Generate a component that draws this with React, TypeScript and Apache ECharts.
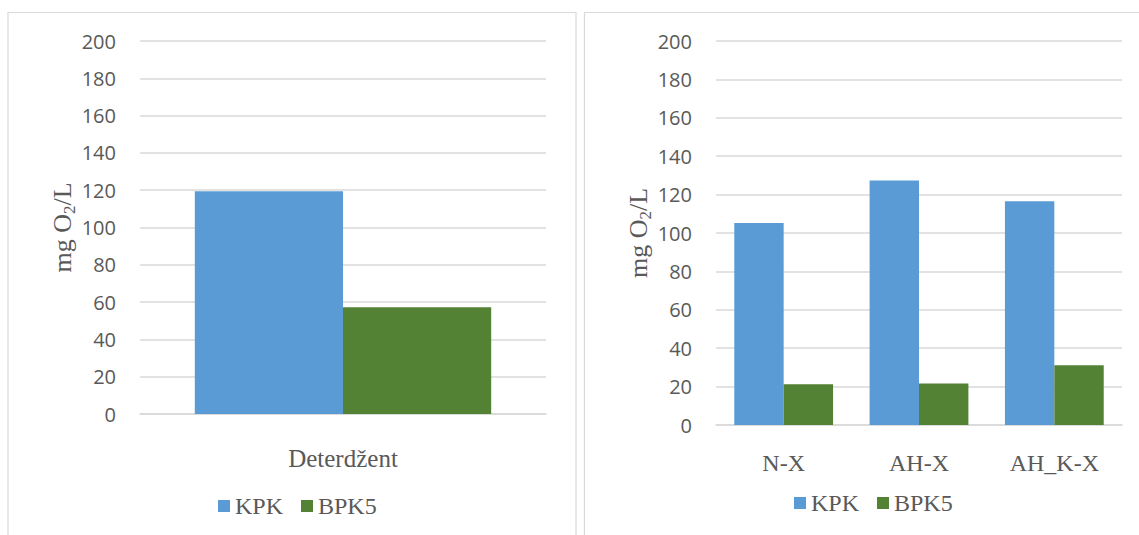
import React, { useEffect, useRef } from "react";
import * as echarts from "echarts";

const seriesNames = ["KPK", "BPK5"];
const leftCategories = ["Deterdžent"];
const leftKPK = [119.5];
const leftBPK5 = [57.2];
const rightCategories = ["N-X", "AH-X", "AH_K-X"];
const rightKPK = [105.2, 127.3, 116.5];
const rightBPK5 = [21.2, 21.6, 31.1];
const yTicks = { min: 0, max: 200, interval: 20 };

const BLUE = "#5b9bd5";
const GREEN = "#548235";
const TEXT = "#595959";
const GRID = "#d9d9d9";
const SERIF = "'Liberation Serif', 'Times New Roman', serif";
const SANS = "'Open Sans', 'Noto Sans', sans-serif";

export default function App() {
  const ref = useRef<HTMLDivElement>(null);
  useEffect(() => {
    if (!ref.current) return;
    const chart = echarts.init(ref.current, undefined, { renderer: "svg" });

    const yAxisBase = (gridIndex: number) => ({
      type: "value" as const,
      gridIndex,
      min: yTicks.min,
      max: yTicks.max,
      interval: yTicks.interval,
      axisLine: { show: false },
      axisTick: { show: false },
      axisLabel: { color: TEXT, fontSize: 20, fontFamily: SANS, margin: 24 },
      splitLine: { lineStyle: { color: GRID, width: 1.5 } },
      name: "{a|mg O}{s|2}{a|/L}",
      nameLocation: "middle" as const,
      nameGap: 60,
      nameTextStyle: {
        color: TEXT,
        fontFamily: SERIF,
        fontSize: 26,
        rich: {
          a: { fontFamily: SERIF, fontSize: 26, color: TEXT, lineHeight: 30 },
          s: { fontFamily: SERIF, fontSize: 17, color: TEXT, lineHeight: 16, verticalAlign: "bottom" },
        },
      },
    });

    const xAxisBase = (gridIndex: number, data: string[], margin: number, fontSize: number) => ({
      type: "category" as const,
      gridIndex,
      data,
      axisLine: { lineStyle: { color: GRID, width: 1.5 } },
      axisTick: { show: false },
      axisLabel: { color: TEXT, fontSize, fontFamily: SERIF, margin },
    });

    const legendBase = (left: number, top: number) => ({
      data: seriesNames,
      left,
      top,
      padding: 0,
      itemWidth: 12,
      itemHeight: 12,
      itemGap: 18,
      icon: "rect",
      textStyle: { color: TEXT, fontSize: 24, fontFamily: SERIF },
      selectedMode: false as const,
    });

    chart.setOption({
      animation: false,
      backgroundColor: "#ffffff",
      graphic: [
        {
          type: "rect",
          shape: { x: 8, y: 12.5, width: 568, height: 540 },
          style: { fill: "none", stroke: GRID, lineWidth: 1.2 },
          silent: true,
        },
        {
          type: "rect",
          shape: { x: 584.5, y: 12.5, width: 560, height: 540 },
          style: { fill: "none", stroke: GRID, lineWidth: 1.2 },
          silent: true,
        },
      ],
      grid: [
        { left: 140, right: 1139 - 546, top: 41, bottom: 535 - 414 },
        { left: 716, right: 1139 - 1122, top: 41, bottom: 535 - 425 },
      ],
      xAxis: [
        xAxisBase(0, leftCategories, 32, 25),
        xAxisBase(1, rightCategories, 26, 24),
      ],
      yAxis: [yAxisBase(0), yAxisBase(1)],
      legend: [legendBase(218, 494), legendBase(794, 491)],
      series: [
        {
          name: seriesNames[0],
          type: "bar",
          xAxisIndex: 0,
          yAxisIndex: 0,
          data: leftKPK,
          barGap: "0%",
          barCategoryGap: "27%",
          itemStyle: { color: BLUE },
        },
        {
          name: seriesNames[1],
          type: "bar",
          xAxisIndex: 0,
          yAxisIndex: 0,
          data: leftBPK5,
          barGap: "0%",
          barCategoryGap: "27%",
          itemStyle: { color: GREEN },
        },
        {
          name: seriesNames[0],
          type: "bar",
          xAxisIndex: 1,
          yAxisIndex: 1,
          data: rightKPK,
          barGap: "0%",
          barCategoryGap: "27%",
          itemStyle: { color: BLUE },
        },
        {
          name: seriesNames[1],
          type: "bar",
          xAxisIndex: 1,
          yAxisIndex: 1,
          data: rightBPK5,
          barGap: "0%",
          barCategoryGap: "27%",
          itemStyle: { color: GREEN },
        },
      ],
    });
    return () => chart.dispose();
  }, []);
  return (
    <div
      ref={ref}
      style={{ position: "absolute", left: 0, top: 0, width: 1139, height: 535 }}
    />
  );
}
